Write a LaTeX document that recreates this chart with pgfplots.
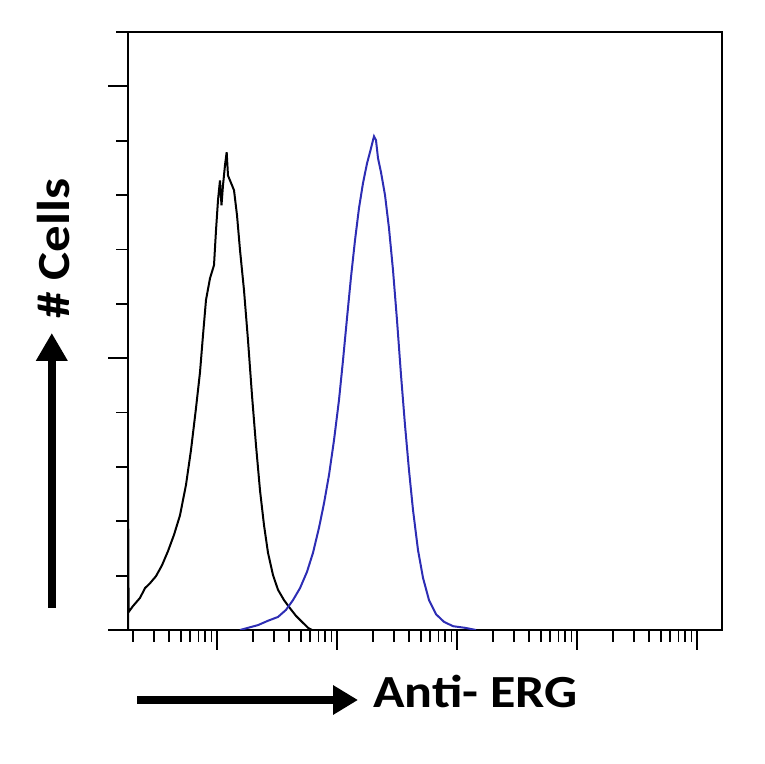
\documentclass[border=0pt]{standalone}
\usepackage{pgfplots}
\pgfplotsset{compat=1.18}
\usepackage{fontspec}
\setmainfont{Carlito}
\usetikzlibrary{arrows.meta}

\definecolor{histblue}{RGB}{45,45,180}

\begin{document}
\begin{tikzpicture}
\useasboundingbox (0,0) rectangle (382pt,382pt);
\begin{axis}[
at={(64pt,67pt)}, anchor=south west,
scale only axis,
width=297pt, height=299pt,
xmode=log,
xmin=1.813, xmax=161560,
ymin=0, ymax=11,
xtick={10,100,1000,10000,100000},
minor xtick={2,3,4,5,6,7,8,9,20,30,40,50,60,70,80,90,200,300,400,500,600,700,800,900,2000,3000,4000,5000,6000,7000,8000,9000,20000,30000,40000,50000,60000,70000,80000,90000},
ytick={0,5,10},
minor ytick={1,2,3,4,6,7,8,9,11},
xticklabels={}, yticklabels={},
tick align=outside,
xtick pos=bottom, ytick pos=left,
major tick length=10pt,
minor tick length=6pt,
every tick/.style={black, line width=0.9pt},
axis line style={line width=1.1pt},
clip=true,
]
% isotype control
\addplot[black, line width=1pt] coordinates {
(1.813,0) (1.813,2.94) (1.834,0.33) (1.995,0.44) (2.282,0.59) (2.512,0.77)
(2.765,0.86) (3.102,0.99) (3.480,1.19) (3.905,1.45) (4.382,1.75) (4.917,2.11)
(5.517,2.67) (6.072,3.31) (6.683,4.08) (7.217,4.74) (7.645,5.42) (8.097,6.07)
(8.746,6.47) (9.441,6.71) (9.810,7.35) (10.19,7.90) (10.59,8.27) (10.90,7.81)
(11.22,8.18) (11.66,8.55) (12.04,8.79) (12.35,8.36) (12.83,8.27) (13.86,8.09)
(14.68,7.63) (15.55,6.99) (16.79,6.25) (18.13,5.33) (19.57,4.32) (21.13,3.40)
(22.82,2.57) (24.64,1.93) (26.61,1.42) (29.29,1.01) (32.24,0.74) (36.17,0.55)
(40.58,0.40) (45.53,0.26) (51.09,0.15) (57.32,0.04) (61.90,0)
};
% anti-ERG
\addplot[histblue, line width=1pt] coordinates {
(15.55,0) (18.13,0.04) (21.96,0.09) (26.61,0.17) (32.23,0.24) (37.58,0.37)
(42.98,0.55) (49.17,0.77) (56.23,1.07) (63.10,1.42) (70.79,1.88) (77.93,2.33)
(85.77,2.85) (94.41,3.49) (103.9,4.23) (112.2,4.96) (121.2,5.74) (130.8,6.49)
(141.3,7.17) (152.5,7.76) (164.7,8.22) (177.8,8.58) (192.0,8.86) (203.4,9.08)
(211.3,9.01) (219.6,8.68) (232.6,8.42) (251.2,8.00) (271.2,7.39) (292.9,6.62)
(316.2,5.70) (341.5,4.69) (368.7,3.77) (398.1,2.94) (429.8,2.21) (473.2,1.47)
(520.8,0.96) (584.3,0.55) (668.3,0.29) (779.3,0.15) (926.1,0.07) (1166,0.04)
(1440,0)
};
\end{axis}
% axis captions with arrows
\draw[line width=3.8pt, -{Triangle[length=14pt,width=15pt]}] (25.9pt,78pt) -- (25.9pt,215.5pt);
\draw[line width=3.8pt, -{Triangle[length=12.5pt,width=14pt]}] (68.5pt,32pt) -- (179pt,32pt);
\node[rotate=90, anchor=base, inner sep=0pt] at (34.5pt,257.75pt)
  {\fontsize{23}{23}\selectfont\bfseries\scalebox{1.15}[1]{\#~Cells}};
\node[anchor=base west, inner sep=0pt] at (186.5pt,28pt)
  {\fontsize{23}{23}\selectfont\bfseries\scalebox{1.13}[1]{Anti- ERG}};
\end{tikzpicture}
\end{document}
